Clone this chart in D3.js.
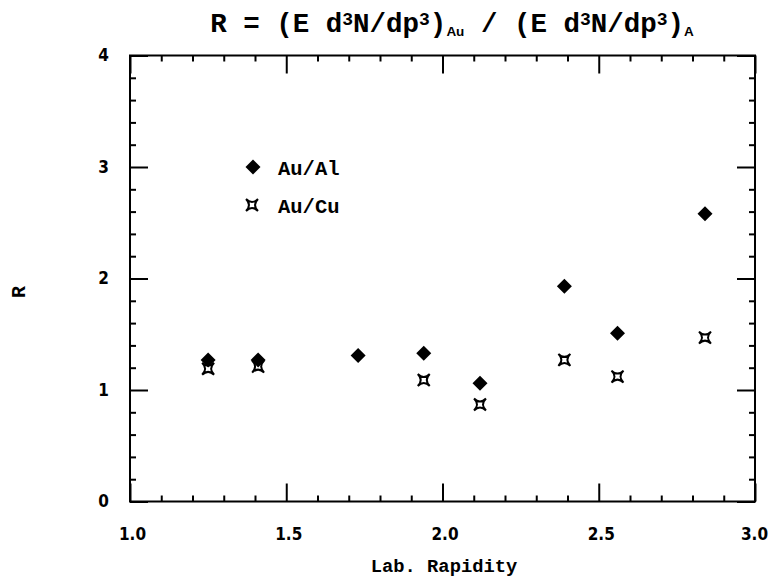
<!DOCTYPE html>
<html>
<head>
<meta charset="utf-8">
<script src="https://cdn.jsdelivr.net/npm/d3@7"></script>
<style>
  body { margin: 0; background: #fff; }
  svg { display: block; }
</style>
</head>
<body>
<svg id="chart" width="769" height="577"></svg>
<script>
// values
const rapidityAl = [1.25, 1.41, 1.73, 1.94, 2.12, 2.39, 2.56, 2.84];
const ratioAl = [1.27, 1.27, 1.31, 1.33, 1.06, 1.93, 1.51, 2.58];
const rapidityCu = [1.25, 1.41, 1.94, 2.12, 2.39, 2.56, 2.84];
const ratioCu = [1.19, 1.21, 1.09, 0.87, 1.27, 1.12, 1.47];

const xMajor = [1.0, 1.5, 2.0, 2.5, 3.0];
const xTickLabels = ['1.0', '1.5', '2.0', '2.5', '3.0'];
const yMajor = [0, 1, 2, 3, 4];
const yTickLabels = ['0', '1', '2', '3', '4'];
const legendLabels = ['Au/Al', 'Au/Cu'];

const svg = d3.select('#chart');
const margin = { left: 130, right: 14, top: 55.5, bottom: 75.5 };
const W = 769, H = 577;

const x = d3.scaleLinear().domain([1, 3]).range([margin.left, W - margin.right]);
const y = d3.scaleLinear().domain([0, 4]).range([H - margin.bottom, margin.top]);

const xMinor = d3.range(1.0, 3.0001, 0.1).filter(v => Math.abs(v * 2 - Math.round(v * 2)) > 1e-6);
const yMinor = d3.range(0, 4.0001, 0.2).filter(v => Math.abs(v - Math.round(v)) > 1e-6);

const MAJ = 18, MIN = 6;

function addAxis(gen, transform) {
  const g = svg.append('g').attr('transform', transform).call(gen);
  g.select('.domain').remove();
  g.selectAll('.tick line').attr('stroke', '#000').attr('stroke-width', 2);
  return g;
}

// bottom
const gb = addAxis(d3.axisBottom(x).tickValues(xMajor).tickSize(-MAJ).tickPadding(MAJ + 8)
  .tickFormat((d, i) => xTickLabels[i]), `translate(0,${y(0)})`);
addAxis(d3.axisBottom(x).tickValues(xMinor).tickSize(-MIN).tickFormat(''), `translate(0,${y(0)})`);
// top
addAxis(d3.axisTop(x).tickValues(xMajor).tickSize(-MAJ).tickFormat(''), `translate(0,${y(4)})`);
addAxis(d3.axisTop(x).tickValues(xMinor).tickSize(-MIN).tickFormat(''), `translate(0,${y(4)})`);
// left
const gl = addAxis(d3.axisLeft(y).tickValues(yMajor).tickSize(-MAJ).tickPadding(MAJ + 3)
  .tickFormat((d, i) => yTickLabels[i]), `translate(${x(1)},0)`);
addAxis(d3.axisLeft(y).tickValues(yMinor).tickSize(-MIN).tickFormat(''), `translate(${x(1)},0)`);
// right
addAxis(d3.axisRight(y).tickValues(yMajor).tickSize(-MAJ).tickFormat(''), `translate(${x(3)},0)`);
addAxis(d3.axisRight(y).tickValues(yMinor).tickSize(-MIN).tickFormat(''), `translate(${x(3)},0)`);

[gb, gl].forEach(g => g.attr('font-family', '"DejaVu Sans Condensed", "DejaVu Sans", sans-serif')
  .attr('font-size', 17));
[gb, gl].forEach(g => g.selectAll('.tick text').attr('fill', '#000')
  .style('font-weight', 'bold').style('font-stretch', 'condensed'));
gb.selectAll('.tick text').attr('dx', (d, i) => (i === xMajor.length - 1 ? '-1px' : '2px'));

// frame
svg.append('rect')
  .attr('x', x(1)).attr('y', y(4))
  .attr('width', x(3) - x(1)).attr('height', y(0) - y(4))
  .attr('fill', 'none').attr('stroke', '#000').attr('stroke-width', 2);

// markers
const diamond = 'M0,-7.5L7.5,0L0,7.5L-7.5,0Z';
const s = 6;
const star = `M${-s},${-s}Q0,0 ${s},${-s}Q0,0 ${s},${s}Q0,0 ${-s},${s}Q0,0 ${-s},${-s}Z`;

svg.append('g').selectAll('path')
  .data(rapidityCu.map((r, i) => [r, ratioCu[i]]))
  .join('path')
  .attr('d', star)
  .attr('transform', d => `translate(${x(d[0])},${y(d[1])})`)
  .attr('fill', '#fff').attr('stroke', '#000').attr('stroke-width', 2);

svg.append('g').selectAll('path')
  .data(rapidityAl.map((r, i) => [r, ratioAl[i]]))
  .join('path')
  .attr('d', diamond)
  .attr('transform', d => `translate(${x(d[0])},${y(d[1])})`)
  .attr('fill', '#000');

// legend
const mono = '"Liberation Mono", "Courier New", monospace';
const legend = svg.append('g');
legend.append('path').attr('d', diamond).attr('transform', 'translate(253,167)').attr('fill', '#000');
legend.append('path').attr('d', star).attr('transform', 'translate(252,205)')
  .attr('fill', '#fff').attr('stroke', '#000').attr('stroke-width', 2);
legend.selectAll('text')
  .data(legendLabels)
  .join('text')
  .attr('x', 278)
  .attr('y', (d, i) => 175 + i * 38)
  .style('font-family', mono).style('font-weight', 'bold').style('font-size', '20.5px')
  .text(d => d);

// axis titles
svg.append('text')
  .attr('x', 444).attr('y', 572).attr('text-anchor', 'middle')
  .style('font-family', mono).style('font-weight', 'bold').style('font-size', '18.8px')
  .text('Lab. Rapidity');

svg.append('text')
  .attr('transform', 'translate(25,292) rotate(-90)').attr('text-anchor', 'middle')
  .style('font-family', mono).style('font-weight', 'bold').style('font-size', '20px')
  .text('R');

// title
const title = svg.append('text')
  .attr('x', 452).attr('y', 32).attr('text-anchor', 'middle')
  .style('font-family', mono).style('font-weight', 'bold').style('font-size', '27.5px');
const parts = [
  ['R = (E d', 0], ['3', 1], ['N/dp', 0], ['3', 1], [')', 0], ['Au', -1],
  [' / (E d', 0], ['3', 1], ['N/dp', 0], ['3', 1], [')', 0], ['A', -1]
];
parts.forEach(([t, k]) => {
  const ts = title.append('tspan').text(t);
  if (k === 1) ts.attr('baseline-shift', '40%').style('font-size', '18px');
  if (k === -1) ts.attr('baseline-shift', '-30%').style('font-size', '13.5px')
    .style('font-family', '"Liberation Sans", Arial, sans-serif');
});
</script>
</body>
</html>
